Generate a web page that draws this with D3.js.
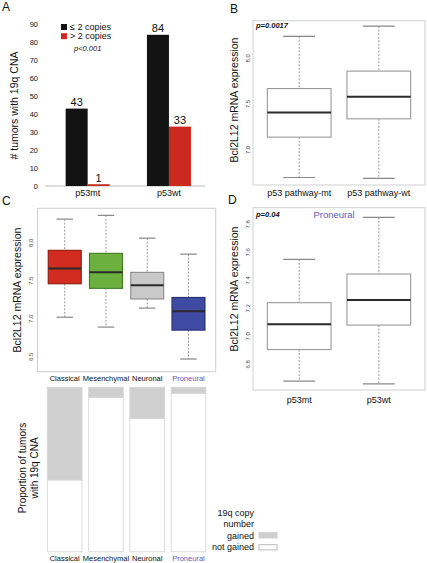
<!DOCTYPE html>
<html><head><meta charset="utf-8">
<script src="https://cdn.jsdelivr.net/npm/d3@7"></script>
<style>body{margin:0;background:#fff}svg{display:block;font-family:"Liberation Sans",Arial,sans-serif}</style>
</head><body>
<svg id="c" width="427" height="563"></svg>
<script>
// ---------- DATA ----------
// Panel A
const aGroups = ["p53mt", "p53wt"];
const aSeries = ["≤ 2 copies", "> 2 copies"];
const aLow = [43, 84];   // ≤ 2 copies
const aHigh = [1, 33];   // > 2 copies
const aTicks = [0, 10, 20, 30, 40, 50, 60, 70, 80, 90];
// Panel B
const bCats = ["p53 pathway-mt", "p53 pathway-wt"];
const bLow = [6.70, 6.69], bQ1 = [7.14, 7.34], bMed = [7.41, 7.58], bQ3 = [7.67, 7.86], bHigh = [8.24, 8.35];
const bTicks = [7.0, 7.5, 8.0];
// Panel C
const cCats = ["Classical", "Mesenchymal", "Neuronal", "Proneural"];
const cLow = [7.02, 6.89, 7.14, 6.47], cQ1 = [7.46, 7.40, 7.26, 6.85], cMed = [7.66, 7.61, 7.44, 7.10], cQ3 = [7.90, 7.86, 7.61, 7.28], cHigh = [8.31, 8.36, 8.06, 7.85];
const cTicks = [6.5, 7.0, 7.5, 8.0];
const cColors = ["#d22b1f", "#6cb13f", "#c9c9c9", "#3f4ba3"];
const cStroke = ["#8a1a12", "#3f7a22", "#8a8a8a", "#262e70"];
const cGained = [0.564, 0.061, 0.19, 0.036];
// Panel D
const dCats = ["p53mt", "p53wt"];
const dLow = [6.68, 6.66], dQ1 = [6.905, 7.08], dMed = [7.086, 7.26], dQ3 = [7.24, 7.445], dHigh = [7.55, 7.85];
const dTicks = [6.8, 7.0, 7.2, 7.4, 7.6, 7.8];
const legendItems = ["gained", "not gained"];

const svg = d3.select("#c");
const txt = (x, y, s, o = {}) => svg.append("text").attr("x", x).attr("y", y).text(s)
  .attr("font-size", o.size || 10).attr("text-anchor", o.anchor || "start")
  .attr("fill", o.fill || "#111").attr("font-style", o.italic ? "italic" : null)
  .attr("font-weight", o.bold ? "bold" : null)
  .attr("transform", o.rot ? `rotate(-90,${x},${y})` : null);

// panel letters
txt(2, 11, "A", {size: 12});
txt(230, 13, "B", {size: 12});
txt(2, 205, "C", {size: 12});
txt(228, 204, "D", {size: 12});

// ---------- Panel A ----------
{
  const y = d3.scaleLinear().domain([0, 90]).range([186, 24]);
  const xc = d3.scalePoint().domain(aGroups).range([47, 209.6]).padding(0.5);
  const xs = d3.scaleBand().domain(aSeries).range([-22, 22]);
  const cols = ["#121212", "#cc2a1e"];
  svg.append("line").attr("x1", 45).attr("x2", 205).attr("y1", y(0)).attr("y2", y(0)).attr("stroke", "#bbb");
  aTicks.forEach(t => txt(38, y(t) + 2.5, t, {size: 7.5, anchor: "end"}));
  aGroups.forEach((g, i) => {
    [aLow[i], aHigh[i]].forEach((v, j) => {
      const x0 = xc(g) + xs(aSeries[j]);
      svg.append("rect").attr("x", x0).attr("y", y(v)).attr("width", xs.bandwidth()).attr("height", y(0) - y(v)).attr("fill", cols[j]);
      txt(x0 + xs.bandwidth() / 2, y(v) - 2.5, v, {size: 11, anchor: "middle"});
    });
    txt(xc(g), 196, g, {size: 9, anchor: "middle"});
  });
  aSeries.forEach((s, j) => {
    svg.append("rect").attr("x", 61).attr("y", 24 + j * 9.2).attr("width", 6).attr("height", 6).attr("fill", cols[j]);
    txt(70, 30 + j * 9.2, s, {size: 9});
  });
  txt(74, 50.5, "p<0.001", {size: 7.5, italic: true});
  txt(18, 105.5, "# tumors with 19q CNA", {size: 10.5, anchor: "middle", rot: true});
}

// ---------- Box plot helper ----------
function boxPanel(o) {
  const n = o.cats.length;
  const pad = 0.5 + 0.04 * n;
  const x = d3.scaleLinear().domain([1 - pad, n + pad]).range([o.left, o.right]);
  const y = d3.scaleLinear().domain(o.ydom).range([o.bottom, o.top]);
  svg.append("rect").attr("x", o.left).attr("y", o.top).attr("width", o.right - o.left).attr("height", o.bottom - o.top)
    .attr("fill", "none").attr("stroke", "#cfcfcf");
  o.ticks.forEach(t => txt(o.tickX, y(t), t.toFixed(1), {size: 6, anchor: "middle", rot: true, fill: "#444"}));
  const bw = (x(2) - x(1)) * 0.8;
  o.cats.forEach((c, i) => {
    const cx = x(i + 1);
    const g = svg.append("g");
    [[o.high[i], o.q3[i]], [o.q1[i], o.low[i]]].forEach(([a, b]) =>
      g.append("line").attr("x1", cx).attr("x2", cx).attr("y1", y(a)).attr("y2", y(b))
        .attr("stroke", "#9a9a9a").attr("stroke-dasharray", "2,1.5"));
    [o.high[i], o.low[i]].forEach(v =>
      g.append("line").attr("x1", cx - bw / 4).attr("x2", cx + bw / 4).attr("y1", y(v)).attr("y2", y(v)).attr("stroke", "#888").attr("stroke-width", 1.2));
    g.append("rect").attr("x", cx - bw / 2).attr("y", y(o.q3[i])).attr("width", bw).attr("height", y(o.q1[i]) - y(o.q3[i]))
      .attr("fill", o.fill ? o.fill[i] : "#fff").attr("stroke", o.stroke ? o.stroke[i] : "#999").attr("stroke-width", 1.1);
    g.append("line").attr("x1", cx - bw / 2).attr("x2", cx + bw / 2).attr("y1", y(o.med[i])).attr("y2", y(o.med[i]))
      .attr("stroke", "#2a2a2a").attr("stroke-width", 2);
    txt(cx, o.labelY, c, {size: o.labelSize || 9, anchor: "middle",
      fill: (o.labelFill && o.labelFill[i]) || "#111"});
  });
  return x;
}

// ---------- Panel B ----------
boxPanel({cats: bCats, low: bLow, q1: bQ1, med: bMed, q3: bQ3, high: bHigh, ticks: bTicks,
  left: 253, right: 425, top: 20.7, bottom: 185, ydom: [6.618, 8.41], tickX: 250, labelY: 196});
txt(256, 28, "p=0.0017", {size: 7.5, italic: true, bold: true});
txt(238, 100, "Bcl2L12 mRNA expression", {size: 10.5, anchor: "middle", rot: true});

// ---------- Panel C ----------
const labFill = ["#111", "#111", "#111", "#5c5cb4"];
const xC = boxPanel({cats: cCats, low: cLow, q1: cQ1, med: cMed, q3: cQ3, high: cHigh, ticks: cTicks,
  left: 37.5, right: 215.7, top: 208.3, bottom: 371.7, ydom: [6.303, 8.453], tickX: 33,
  fill: cColors, stroke: cStroke, labelY: 381, labelSize: 7.5, labelFill: labFill});
txt(21, 290, "Bcl2L12 mRNA expression", {size: 10.5, anchor: "middle", rot: true});

// ---------- Panel C bottom (proportions) ----------
{
  const y = d3.scaleLinear().domain([0, 1]).range([551.7, 387.3]);
  const bw = (xC(2) - xC(1)) * 0.84;
  cCats.forEach((c, i) => {
    const cx = xC(i + 1);
    svg.append("rect").attr("x", cx - bw / 2).attr("y", y(1 - cGained[i])).attr("width", bw).attr("height", y(0) - y(1 - cGained[i]))
      .attr("fill", "#fff").attr("stroke", "#dcdcdc");
    svg.append("rect").attr("x", cx - bw / 2).attr("y", y(1)).attr("width", bw).attr("height", y(1 - cGained[i]) - y(1))
      .attr("fill", "#cfcfcf").attr("stroke", "#d6d6d6");
    txt(cx, 561, c, {size: 7.5, anchor: "middle", fill: labFill[i]});
  });
  txt(26, 468, "Proportion of tumors", {size: 10, anchor: "middle", rot: true});
  txt(38, 468, "with 19q CNA", {size: 10, anchor: "middle", rot: true});
  // legend
  txt(254, 515.5, "19q copy", {size: 9, anchor: "end"});
  txt(254, 526.5, "number", {size: 9, anchor: "end"});
  const lf = ["#cfcfcf", "#fff"];
  legendItems.forEach((s, j) => {
    txt(254, 538.5 + j * 11.7, s, {size: 9, anchor: "end"});
    svg.append("rect").attr("x", 259).attr("y", 532.7 + j * 12).attr("width", 18).attr("height", 5.2)
      .attr("fill", lf[j]).attr("stroke", j ? "#bbb" : "#cfcfcf");
  });
}

// ---------- Panel D ----------
boxPanel({cats: dCats, low: dLow, q1: dQ1, med: dMed, q3: dQ3, high: dHigh, ticks: dTicks,
  left: 253, right: 425, top: 207.7, bottom: 390, ydom: [6.616, 7.919], tickX: 250, labelY: 403});
txt(256, 217, "p=0.04", {size: 7.5, italic: true, bold: true});
txt(334, 218, "Proneural", {size: 9.5, anchor: "middle", fill: "#5c5cb4"});
txt(238, 289, "Bcl2L12 mRNA expression", {size: 10.5, anchor: "middle", rot: true});
</script>
</body></html>
